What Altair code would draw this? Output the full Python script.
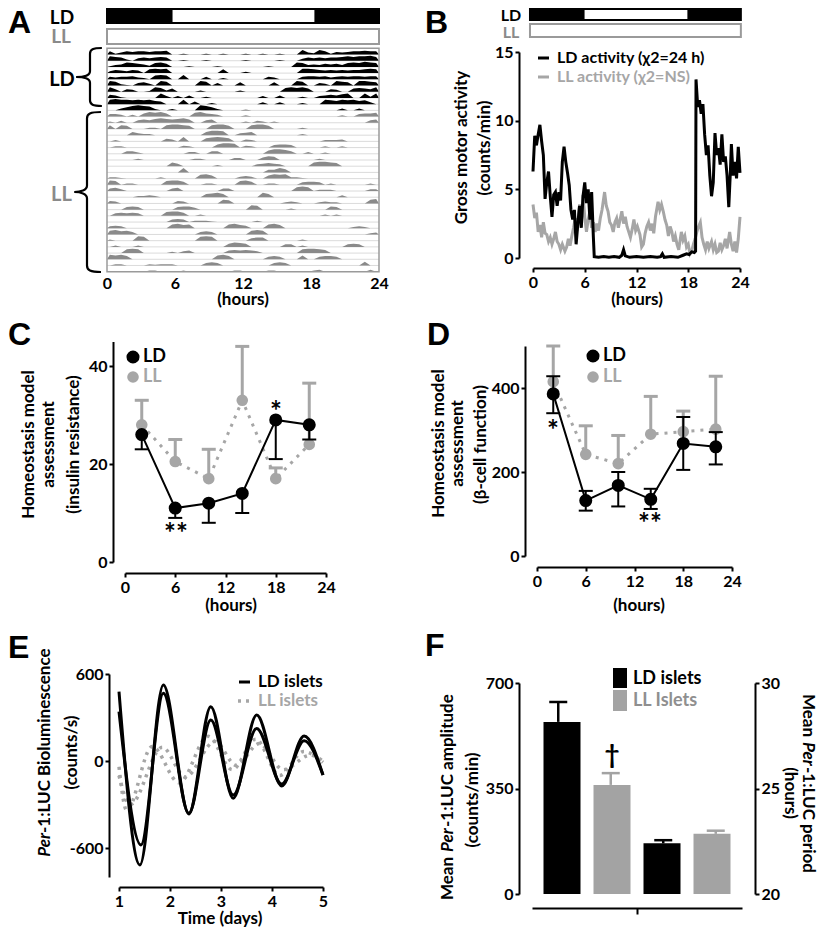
import altair as alt
import pandas as pd

FONT = "Lato"
LETTER_FONT = "Liberation Sans"
W, H = 809, 919
BLACK = "#000000"
GRAY_DARK = "#8a8a8a"
GRAY = "#a6a6a6"

# ---------------- Panel A: light bars + actogram ----------------
ld_bar_a_start = [0, 5.8, 18.3]
ld_bar_a_end = [5.8, 18.3, 24]
ld_bar_a_fill = ["black", "white", "black"]
n_ld_rows = 10
# each row: 48 half-hour bins (0-24 h), activity level 0-9
act_rows = [
    "513545545560 010001001000 100100100073 275143455655",
    "765204545650 010001000000 100000100035 454556767786",
    "134765426750 001000010000 000010000763 435453676876",
    "354354067670 000000006000 200000000077 654545455676",
    "434453206760 070004002000 000043000045 545345455455",
    "762104530760 000076040005 000005000760 043076507765",
    "740430017625 000020000002 000000067675 000430056547",
    "541000000730 304002000000 000300400020 034546700727",
    "787767675400 070400200000 000300300020 007657675630",
    "003578762002 000087520000 100000000000 000003003000",
    "443030576750 000675430000 200000000000 000002004556",
    "203004546765 675004500000 203202000000 000000000045",
    "606500022067 765000677500 067750000020 000000000000",
    "000053220000 000005776003 450000000020 000000000000",
    "020000000043 070005676500 320000000000 002223000000",
    "022000000000 032000057760 320004554000 002002000000",
    "000442000000 003300440000 000057764003 002000000000",
    "000002000000 000220000033 000465000000 020000000000",
    "000000000006 400000020000 003454300000 677650000000",
    "000000000000 070000000000 000044750000 000000000000",
    "221000000200 000067500003 430057672210 000000000000",
    "760220000067 750002200006 750022000045 540200000020",
    "453000000004 500000004400 000000000676 022200000033",
    "000002232000 000005675000 000750000000 000003000000",
    "430000000000 430000006500 000000023200 023220000067",
    "000454000000 455300000000 076000002000 000540000000",
    "045454000067 750020000000 000000000000 002020000000",
    "000000000004 540222100000 002000000000 000000000000",
    "343000000006 756000000675 400067500000 000000023200",
    "675640000000 000045400000 067600000000 000000000023",
    "200007600000 000067600000 045500000020 000000000000",
    "020002000000 000000000576 500000044020 000000454000",
    "000676000002 034000000454 543000000067 765000000000",
    "767500000000 000000067500 000045400060 045540000000",
    "022000021222 000004540000 000004540000 000000000600",
    "000000022000 020000000022 000022000000 230000000030",
]

# ---------------- Panel B: activity traces ----------------
ld_bar_b_start = [-0.35, 6.0, 17.9]
ld_bar_b_end = [6.0, 17.9, 24.1]
ld_bar_b_fill = ["black", "white", "black"]
b_ld_trace = [(0.0,6.3),(0.2,8.9),(0.4,8.2),(0.6,9.0),(0.8,9.7),(1.0,8.5),(1.2,7.5),(1.4,4.3),(1.6,5.5),
    (1.8,6.3),(2.0,4.5),(2.2,3.0),(2.4,4.6),(2.6,4.8),(2.8,3.8),(3.0,4.8),(3.2,4.2),(3.4,7.0),(3.6,8.1),
    (3.8,7.0),(4.0,6.2),(4.2,5.3),(4.4,3.5),(4.6,2.8),(4.8,3.5),(5.0,1.0),(5.2,2.5),(5.4,3.8),(5.6,2.2),
    (5.8,4.5),(6.0,5.5),(6.2,4.0),(6.4,5.0),(6.6,2.8),(6.8,4.8),(7.0,1.5),(7.1,0.1),(7.6,0.05),(8.2,0.1),
    (8.8,0.05),(9.4,0.1),(10.0,0.05),(10.3,0.2),(10.5,0.6),(10.7,0.15),(11.2,0.05),(12.0,0.1),(12.8,0.05),
    (13.6,0.1),(14.4,0.05),(14.8,0.1),(15.0,0.3),(15.2,0.05),(16.0,0.1),(16.8,0.05),(17.4,0.2),(17.8,0.3),
    (18.1,0.25),(18.4,0.45),(18.7,0.4),(18.85,0.5),(18.9,13.0),(19.1,11.0),(19.3,11.5),(19.5,10.5),
    (19.7,11.2),(19.9,9.0),(20.1,7.5),(20.3,8.2),(20.5,6.0),(20.7,4.5),(20.9,5.5),(21.1,9.1),(21.3,7.5),
    (21.5,8.0),(21.7,6.8),(21.9,9.0),(22.1,7.0),(22.3,7.4),(22.5,6.0),(22.7,3.7),(22.9,6.5),(23.0,8.3),
    (23.2,6.0),(23.4,7.0),(23.6,5.8),(23.8,8.1),(24.0,6.2)]
b_ll_trace = [(0.0,3.9),(0.2,2.9),(0.4,3.3),(0.6,1.9),(0.8,2.4),(1.0,1.5),(1.2,2.6),(1.4,1.8),(1.6,1.7),
    (1.8,1.2),(2.0,1.5),(2.2,1.0),(2.4,1.4),(2.6,1.9),(2.8,1.2),(3.0,1.0),(3.2,0.6),(3.4,1.0),(3.7,0.5),
    (3.9,0.8),(4.1,1.4),(4.3,0.9),(4.5,1.6),(4.7,2.2),(4.9,2.9),(5.1,2.0),(5.4,3.9),(5.6,2.5),(5.8,4.6),
    (6.0,3.0),(6.2,1.9),(6.4,2.8),(6.6,3.4),(6.8,2.2),(7.0,2.6),(7.2,1.9),(7.4,2.5),(7.6,2.0),(7.8,2.9),
    (8.0,3.5),(8.3,4.8),(8.5,3.8),(8.7,3.4),(8.9,2.6),(9.1,2.4),(9.3,1.9),(9.5,2.6),(9.7,2.9),(9.9,2.2),
    (10.1,2.8),(10.3,3.4),(10.5,2.5),(10.7,3.0),(10.9,2.3),(11.1,1.9),(11.3,1.5),(11.5,2.1),(11.7,2.8),
    (11.9,2.0),(12.1,2.3),(12.4,1.7),(12.6,0.8),(12.8,1.0),(13.0,1.8),(13.2,2.3),(13.4,2.6),(13.6,2.0),
    (13.8,2.5),(14.0,1.8),(14.2,3.0),(14.5,4.1),(14.7,3.5),(14.9,3.9),(15.1,3.4),(15.3,2.8),(15.5,2.4),
    (15.7,1.6),(15.9,2.3),(16.1,1.9),(16.3,1.2),(16.5,1.6),(16.7,1.0),(16.9,0.6),(17.2,1.9),(17.4,1.3),
    (17.6,1.6),(17.8,0.8),(18.0,1.0),(18.2,0.3),(18.4,0.5),(18.6,1.0),(18.8,1.4),(19.0,1.9),(19.2,2.3),
    (19.4,2.6),(19.6,1.5),(19.8,1.0),(20.0,0.6),(20.2,1.2),(20.4,0.7),(20.7,1.2),(20.9,0.6),(21.1,1.0),
    (21.3,0.4),(21.5,0.5),(21.7,1.1),(21.9,0.6),(22.1,0.9),(22.3,1.4),(22.5,0.7),(22.8,1.9),(23.0,1.0),
    (23.2,0.5),(23.4,1.2),(23.6,0.4),(23.8,1.4),(24.0,3.0)]

# ---------------- Panels C / D ----------------
zt_hours = [2, 6, 10, 14, 18, 22]
c_ld = [26, 11, 12, 14, 29, 28]
c_ld_low = [23, 9, 8, 10, 21, 25]
c_ll = [28, 20.5, 17, 33, 17, 24]
c_ll_high = [33, 25, 23, 44, 19.2, 36.5]
d_ld = [386, 132, 168, 135, 268, 260]
d_ld_low = [340, 108, 118, 112, 205, 218]
d_ld_high = [428, 155, 200, 160, 331, 295]
d_ll = [415, 242, 220, 290, 296, 302]
d_ll_high = [500, 310, 287, 380, 345, 428]

# ---------------- Panel E: bioluminescence extrema ----------------
e_ld1_days = [1.0, 1.41, 1.87, 2.37, 2.8, 3.24, 3.7, 4.19, 4.63, 5.0]
e_ld1 = [478, -717, 524, -365, 375, -257, 317, -172, 172, -97]
e_ld2_days = [1.0, 1.43, 1.87, 2.37, 2.8, 3.24, 3.7, 4.19, 4.63, 5.0]
e_ld2 = [340, -579, 467, -360, 283, -235, 225, -159, 140, -97]
e_ll1_days = [1.0, 1.15, 1.65, 2.18, 2.75, 3.22, 3.68, 4.15, 4.62, 5.0]
e_ll1 = [-40, -340, 100, -150, 170, -60, 150, -100, 65, -10]
e_ll2_days = [1.0, 1.22, 1.85, 2.3, 2.88, 3.3, 3.75, 4.22, 4.75, 5.0]
e_ll2 = [-100, -300, 95, -110, 135, -30, 120, -60, 40, 0]

# ---------------- Panel F ----------------
f_groups = ["LD islets", "LL Islets"]
f_colors = [BLACK, "#a3a3a3"]
f_amp = [571, 362]
f_amp_err = [637, 401]
f_period = [22.4, 22.85]
f_period_err = [22.55, 23.0]

# ================= helpers =================
dummy = pd.DataFrame({"d": [0]})


def text(s, x, y, size=17, color=BLACK, angle=0, align="center", baseline="middle",
         italic=False, font=FONT):
    return alt.Chart(dummy).mark_text(
        text=s, font=font, fontSize=size, fontWeight="bold",
        fontStyle="italic" if italic else "normal", color=color, angle=angle,
        align=align, baseline=baseline,
    ).encode(x=alt.value(x), y=alt.value(y))


def sc(dom, rng):
    return alt.Scale(domain=dom, range=rng, nice=False, zero=False)


def qx(field, s, axis=None):
    return alt.X(f"{field}:Q", scale=s, axis=axis, title=None)


def qy(field, s, axis=None):
    return alt.Y(f"{field}:Q", scale=s, axis=axis, title=None)


def ax(orient, offset, values, **kw):
    base = dict(orient=orient, offset=offset, values=values, title=None, grid=False,
                labelFlush=False, labelOverlap=False)
    base.update(kw)
    return alt.Axis(**base)


def light_bar(start, end, fill, xs, y0, y1, edge):
    df = pd.DataFrame({"s": start, "e": end, "f": fill})
    fills = alt.Chart(df).mark_rect().encode(
        x=qx("s", xs), x2="e", y=alt.value(y0), y2=alt.value(y1),
        color=alt.Color("f:N", scale=None))
    out = alt.Chart(pd.DataFrame({"s": [min(start)], "e": [max(end)]})).mark_rect(
        fillOpacity=0, stroke=edge, strokeWidth=2).encode(
        x=qx("s", xs), x2="e", y=alt.value(y0), y2=alt.value(y1))
    return [fills, out]


layers = []

# ================= Panel A =================
axs = sc([0, 24], [99, 371])
ays = sc([0, 36], [40.3, 263.7])
layers += light_bar(ld_bar_a_start, ld_bar_a_end, ld_bar_a_fill, axs, 1, 15, BLACK)
layers += light_bar([0], [24], ["white"], axs, 21, 36, "#9a9a9a")

df_base = pd.DataFrame({"row": list(range(1, 36)), "s": 0, "e": 24})
layers.append(alt.Chart(df_base).mark_rule(color="#d2d2d2", strokeWidth=0.8).encode(
    x=qx("s", axs), x2="e", y=qy("row", ays)))

recs = []
for r, row in enumerate(act_rows):
    s = row.replace(" ", "")[:48].ljust(48, "0")
    col = BLACK if r < n_ld_rows else GRAY_DARK
    pts = [(0.0, 0)] + [(b * 0.5 + 0.25, int(ch)) for b, ch in enumerate(s)] + [(24.0, 0)]
    for xh, lv in pts:
        recs.append({"row": r, "h": xh, "yb": r + 1, "yt": r + 1 - lv / 9 * 0.92, "c": col})
df_act = pd.DataFrame(recs)
layers.append(alt.Chart(df_act).mark_area(interpolate="linear", strokeWidth=0, opacity=1).encode(
    x=qx("h", axs, ax("bottom", -655, [0, 6, 12, 18, 24], domain=False, ticks=False,
                      labelPadding=3)),
    y=qy("yt", ays), y2="yb", detail="row:N", color=alt.Color("c:N", scale=None)))
layers.append(alt.Chart(pd.DataFrame({"s": [0], "e": [24], "t": [0], "b": [36]})).mark_rect(
    fillOpacity=0, stroke="#9a9a9a", strokeWidth=1.5).encode(
    x=qx("s", axs), x2="e", y=qy("t", ays), y2="b"))

brace_ld = ("M 0.41 -1 C 0.1 -1 0 -0.95 0 -0.8 L 0 -0.2 C 0 -0.05 -0.2 0 -0.48 0 "
            "C -0.2 0 0 0.05 0 0.2 L 0 0.8 C 0 0.95 0.1 1 0.41 1")
brace_ll = ("M 0.175 -1 C 0.04 -1 0 -0.98 0 -0.92 L 0 -0.08 C 0 -0.02 -0.08 0 -0.16 0 "
            "C -0.08 0 0 0.02 0 0.08 L 0 0.92 C 0 0.98 0.04 1 0.175 1")
layers.append(alt.Chart(dummy).mark_point(shape=brace_ld, size=58 ** 2, filled=False,
    color=BLACK, stroke=BLACK, strokeWidth=2.2, opacity=1).encode(x=alt.value(82), y=alt.value(69)))
layers.append(alt.Chart(dummy).mark_point(shape=brace_ll, size=160 ** 2, filled=False,
    color=BLACK, stroke=BLACK, strokeWidth=2.2, opacity=1).encode(x=alt.value(79), y=alt.value(184)))

layers += [
    text("A", 0, 25, size=32, font=LETTER_FONT, align="left", baseline="alphabetic"),
    text("LD", 54, 10, size=19),
    text("LL", 53, 29, size=19, color=GRAY_DARK),
    text("LD", 54, 71.5, size=20),
    text("LL", 53.5, 186.5, size=20, color=GRAY_DARK),
    text("(hours)", 235, 292),
]

# ================= Panel B =================
bxs = sc([0, 24], [525, 732])
bys = sc([0, 15], [250, 44])
layers += light_bar(ld_bar_b_start, ld_bar_b_end, ld_bar_b_fill, bxs, 1, 12, BLACK)
layers += light_bar([-0.35], [24.1], ["white"], bxs, 16, 29, "#9a9a9a")
df_bll = pd.DataFrame(b_ll_trace, columns=["h", "v"])
df_bld = pd.DataFrame(b_ld_trace, columns=["h", "v"])
layers.append(alt.Chart(df_bll).mark_line(color=GRAY, strokeWidth=3).encode(
    x=qx("h", bxs, ax("bottom", -659, [0, 6, 12, 18, 24])),
    y=qy("v", bys, ax("left", -511, [0, 5, 10, 15]))))
layers.append(alt.Chart(df_bld).mark_line(color=BLACK, strokeWidth=3).encode(
    x=qx("h", bxs), y=qy("v", bys)))
layers += [
    alt.Chart(dummy).mark_rule(color=BLACK, strokeWidth=3).encode(
        x=alt.value(530), x2=alt.value(541), y=alt.value(50)),
    alt.Chart(dummy).mark_rule(color=GRAY, strokeWidth=3).encode(
        x=alt.value(530), x2=alt.value(541), y=alt.value(69)),
    text("LD activity (\u03c72=24 h)", 549, 50, size=16, align="left"),
    text("LL activity (\u03c72=NS)", 549, 69, size=16, align="left", color=GRAY),
    text("B", 417, 25, size=32, font=LETTER_FONT, align="left", baseline="alphabetic"),
    text("LD", 503, 8, size=16),
    text("LL", 503, 25, size=16, color=GRAY_DARK),
    text("Gross motor activity", 453.5, 139.5, angle=270),
    text("(counts/min)", 476.5, 140, angle=270),
    text("(hours)", 629, 292),
]


# ================= Panels C and D =================
def hour_panel(xs, ys, ld, ld_lo, ld_hi, ll, ll_hi, xoff, yoff, yvals):
    d = {"h": zt_hours, "ld": ld, "ld_lo": ld_lo, "ll": ll, "ll_hi": ll_hi}
    if ld_hi is not None:
        d["ld_hi"] = ld_hi
    df = pd.DataFrame(d)
    base = alt.Chart(df)
    out = [
        base.mark_line(color=GRAY, strokeWidth=3, strokeDash=[3, 6]).encode(
            x=qx("h", xs), y=qy("ll", ys)),
        base.mark_rule(color=GRAY, strokeWidth=3).encode(x=qx("h", xs), y=qy("ll", ys), y2="ll_hi"),
        base.mark_tick(orient="horizontal", size=14, thickness=3, color=GRAY, opacity=1).encode(
            x=qx("h", xs), y=qy("ll_hi", ys)),
        base.mark_circle(size=135, color=GRAY, opacity=1).encode(x=qx("h", xs), y=qy("ll", ys)),
        base.mark_rule(color=BLACK, strokeWidth=2).encode(x=qx("h", xs), y=qy("ld", ys), y2="ld_lo"),
        base.mark_tick(orient="horizontal", size=14, thickness=2, color=BLACK, opacity=1).encode(
            x=qx("h", xs), y=qy("ld_lo", ys)),
    ]
    if ld_hi is not None:
        out += [
            base.mark_rule(color=BLACK, strokeWidth=2).encode(x=qx("h", xs), y=qy("ld", ys), y2="ld_hi"),
            base.mark_tick(orient="horizontal", size=14, thickness=2, color=BLACK, opacity=1).encode(
                x=qx("h", xs), y=qy("ld_hi", ys)),
        ]
    out += [
        base.mark_line(color=BLACK, strokeWidth=2).encode(x=qx("h", xs), y=qy("ld", ys)),
        base.mark_circle(size=170, color=BLACK, opacity=1).encode(
            x=qx("h", xs, ax("bottom", xoff, [0, 6, 12, 18, 24])),
            y=qy("ld", ys, ax("left", yoff, yvals))),
    ]
    return out


def legend_dots(x, y1, y2):
    return [
        alt.Chart(dummy).mark_circle(size=170, color=BLACK, opacity=1).encode(
            x=alt.value(x), y=alt.value(y1)),
        alt.Chart(dummy).mark_circle(size=135, color=GRAY, opacity=1).encode(
            x=alt.value(x), y=alt.value(y2)),
        text("LD", x + 10, y1, size=18, align="left"),
        text("LL", x + 10, y2, size=18, align="left", color=GRAY),
    ]


cxs = sc([0, 24], [117, 318])
cys = sc([0, 45], [554, 333.5])
layers += hour_panel(cxs, cys, c_ld, c_ld_low, None, c_ll, c_ll_high, -354, -105, [0, 20, 40])
layers += legend_dots(125, 349, 369)
layers += [
    text("C", 0, 337, size=32, font=LETTER_FONT, align="left", baseline="alphabetic"),
    text("Homeostasis model", 20.5, 436.5, angle=270),
    text("assessment", 41, 436.5, angle=270),
    text("(insulin resistance)", 65.5, 436.5, angle=270),
    text("(hours)", 223, 598),
    text("**", 168, 535, size=28, baseline="alphabetic"),
    text("*", 268, 413, size=28, baseline="alphabetic"),
]

dxs = sc([0, 24], [529, 724])
dys = sc([0, 500], [548, 338])
layers += hour_panel(dxs, dys, d_ld, d_ld_low, d_ld_high, d_ll, d_ll_high, -360, -517, [0, 200, 400])
layers += legend_dots(585, 348, 369)
layers += [
    text("D", 419, 337, size=32, font=LETTER_FONT, align="left", baseline="alphabetic"),
    text("Homeostasis model", 430.5, 435.5, angle=270),
    text("assessment", 449.5, 435.5, angle=270),
    text("(\u03b2-cell function)", 473, 436.5, angle=270),
    text("(hours)", 631, 598),
    text("*", 545, 432, size=28, baseline="alphabetic"),
    text("**", 642, 525, size=28, baseline="alphabetic"),
]

# ================= Panel E =================
exs = sc([1, 5], [111, 315])
eys = sc([-800, 600], [869, 666])
minus_expr = "datum.value < 0 ? '-' + abs(datum.value) : '' + datum.value"
for days, vals in [(e_ll1_days, e_ll1), (e_ll2_days, e_ll2)]:
    layers.append(alt.Chart(pd.DataFrame({"t": days, "v": vals})).mark_line(
        interpolate="monotone", color=GRAY, strokeWidth=3.5, strokeDash=[3, 5]).encode(
        x=qx("t", exs), y=qy("v", eys)))
layers.append(alt.Chart(pd.DataFrame({"t": e_ld2_days, "v": e_ld2})).mark_line(
    interpolate="monotone", color=BLACK, strokeWidth=3).encode(x=qx("t", exs), y=qy("v", eys)))
layers.append(alt.Chart(pd.DataFrame({"t": e_ld1_days, "v": e_ld1})).mark_line(
    interpolate="monotone", color=BLACK, strokeWidth=3).encode(
    x=qx("t", exs, ax("bottom", -40, [1, 2, 3, 4, 5])),
    y=qy("v", eys, ax("left", -101, [-600, 0, 600], labelExpr=minus_expr))))
layers += [
    text("E", 0, 650, size=32, font=LETTER_FONT, align="left", baseline="alphabetic"),
    text("Per", 36.5, 825, angle=270, align="right", italic=True),
    text("-1:LUC Bioluminescence", 36.5, 825, angle=270, align="left"),
    text("(counts/s)", 63.5, 744.5, angle=270),
    alt.Chart(dummy).mark_rule(color=BLACK, strokeWidth=3).encode(
        x=alt.value(231), x2=alt.value(242), y=alt.value(674)),
    alt.Chart(dummy).mark_rule(color=GRAY, strokeWidth=3.5, strokeDash=[3, 5]).encode(
        x=alt.value(230), x2=alt.value(245), y=alt.value(693)),
    text("LD islets", 250, 674, size=17, align="left"),
    text("LL islets", 250, 693, size=17, align="left", color=GRAY),
    text("Time (days)", 212, 911),
]

# ================= Panel F =================
fxs = sc([0, 4], [524, 734])
fyl = sc([0, 700], [886, 675])
fyr = sc([20, 30], [886, 675])
df_amp = pd.DataFrame({"pos": [0.5, 1.5], "v": f_amp, "err": f_amp_err, "base": [0, 0],
                       "c": f_colors, "g": f_groups})
df_per = pd.DataFrame({"pos": [2.5, 3.5], "v": f_period, "err": f_period_err, "base": [20, 20],
                       "c": f_colors, "g": f_groups})
for df, ys, is_amp in [(df_amp, fyl, True), (df_per, fyr, False)]:
    b = alt.Chart(df)
    layers.append(b.mark_rule(strokeWidth=2.5).encode(
        x=qx("pos", fxs), y=qy("v", ys), y2="err", color=alt.Color("c:N", scale=None)))
    layers.append(b.mark_tick(orient="horizontal", size=18, thickness=2.5, opacity=1).encode(
        x=qx("pos", fxs), y=qy("err", ys), color=alt.Color("c:N", scale=None)))
    if is_amp:
        xa = ax("bottom", -19, [2], labels=False, tickSize=6)
        ya = ax("left", -511, [0, 350, 700])
    else:
        xa = None
        ya = ax("right", -62, [20, 25, 30])
    layers.append(b.mark_bar(size=37).encode(
        x=qx("pos", fxs, xa), y=qy("v", ys, ya), y2="base", color=alt.Color("c:N", scale=None)))
layers += [
    text("F", 417, 648, size=32, font=LETTER_FONT, align="left", baseline="alphabetic"),
    alt.Chart(dummy).mark_rect(color=BLACK).encode(
        x=alt.value(605), x2=alt.value(619), y=alt.value(660), y2=alt.value(680)),
    alt.Chart(dummy).mark_rect(color="#a3a3a3").encode(
        x=alt.value(605), x2=alt.value(619), y=alt.value(682), y2=alt.value(703)),
    text("LD islets", 625, 671, size=18, align="left"),
    text("LL Islets", 625, 693, size=18, align="left", color="#8f8f8f"),
    text("\u2020", 604, 756, size=26, baseline="alphabetic"),
    text("Mean", 440, 849, angle=270, align="right"),
    text("Per", 440, 844, angle=270, align="left", italic=True),
    text("-1:LUC amplitude", 440, 819, angle=270, align="left"),
    text("(counts/min)", 465, 792, angle=270),
    text("Mean", 800, 729, angle=90, align="right"),
    text("Per", 800, 734, angle=90, align="left", italic=True),
    text("-1:LUC period", 800, 759, angle=90, align="left"),
    text("(hours)", 782, 785, angle=90),
]

chart = alt.layer(*layers).resolve_scale(x="independent", y="independent").properties(
    width=W, height=H, autosize=alt.AutoSizeParams(type="none"), padding=0, background="white",
).configure_view(stroke=None).configure_axis(
    labelFont=FONT, labelFontSize=16, labelFontWeight="bold", labelColor=BLACK,
    domainColor=BLACK, domainWidth=2, tickColor=BLACK, tickWidth=2, tickSize=4,
    labelPadding=2, grid=False,
)

chart.save("out.html", embed_options={"renderer": "svg", "actions": False})
